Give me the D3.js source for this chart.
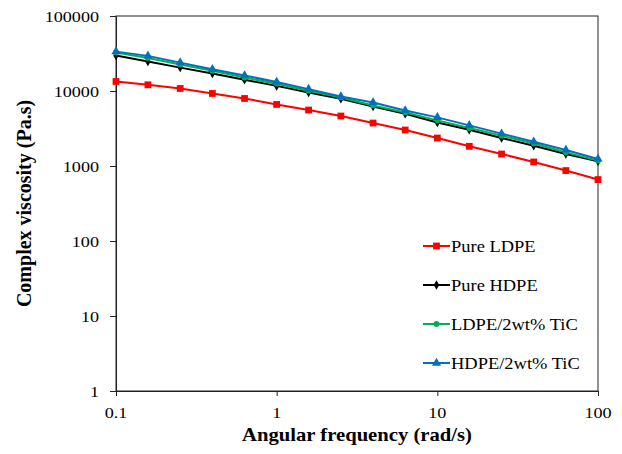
<!DOCTYPE html>
<html>
<head>
<meta charset="utf-8">
<script src="https://cdn.jsdelivr.net/npm/d3@7/dist/d3.min.js"></script>
<style>
body { margin: 0; background: #fff; }
text { font-family: "Liberation Serif", "Times New Roman", serif; fill: #000; }
</style>
</head>
<body>
<svg width="622" height="454"></svg>
<script>
// angular frequency (rad/s), 5 points per decade
var freq = [0.1, 0.158, 0.251, 0.398, 0.631, 1, 1.58, 2.51, 3.98, 6.31, 10, 15.8, 25.1, 39.8, 63.1, 100];
// complex viscosity (Pa.s)
var pureLDPE = [13400, 12100, 10800, 9270, 7950, 6620, 5570, 4640, 3740, 3020, 2360, 1830, 1445, 1133, 869, 659];
var pureHDPE = [29700, 24700, 20500, 17100, 14100, 11700, 9550, 7870, 6220, 4980, 3810, 3050, 2360, 1866, 1445, 1156];
var ldpeTiC = [32500, 27600, 22500, 18600, 15100, 12500, 10100, 8200, 6410, 5180, 4060, 3210, 2540, 1990, 1520, 1180];
var hdpeTiC = [33500, 29400, 23900, 19500, 16100, 13200, 10600, 8450, 7030, 5510, 4450, 3480, 2700, 2110, 1636, 1242];
var seriesNames = ["Pure LDPE", "Pure HDPE", "LDPE/2wt% TiC", "HDPE/2wt% TiC"];
var xTicks = [0.1, 1, 10, 100];
var yTicks = [1, 10, 100, 1000, 10000, 100000];

var series = [
  { name: seriesNames[0], values: pureLDPE, color: "#FF0000", symbol: d3.symbolSquare, size: 46 },
  { name: seriesNames[1], values: pureHDPE, color: "#000000", symbol: d3.symbolDiamond, size: 26 },
  { name: seriesNames[2], values: ldpeTiC, color: "#00B050", symbol: d3.symbolCircle, size: 26 },
  { name: seriesNames[3], values: hdpeTiC, color: "#0070C0", symbol: d3.symbolTriangle, size: 36 }
];

var svg = d3.select("svg");
var margin = { left: 116, right: 24, top: 16, bottom: 63 };
var width = 622 - margin.left - margin.right,
    height = 454 - margin.top - margin.bottom;

var x = d3.scaleLog().domain([0.1, 100]).range([margin.left, margin.left + width]);
var y = d3.scaleLog().domain([1, 100000]).range([margin.top + height, margin.top]);

// text that is a bit wider than the font, like the original export
function label(g, px, py, txt, size, sx, anchor, weight) {
  return g.append("text")
    .attr("transform", "translate(" + px + "," + py + ") scale(" + sx + ",1)")
    .attr("text-anchor", anchor)
    .style("font-size", size + "px")
    .style("font-weight", weight || "normal")
    .text(txt);
}

// plot box
svg.append("rect")
  .attr("x", margin.left).attr("y", margin.top)
  .attr("width", width).attr("height", height)
  .attr("fill", "none").attr("stroke", "#222").attr("stroke-width", 1);

// axes (ticks only, labels drawn below)
svg.append("g")
  .attr("transform", "translate(0," + (margin.top + height) + ")")
  .call(d3.axisBottom(x).tickValues(xTicks).tickSize(5).tickFormat(""))
  .call(g => g.selectAll("line,path").attr("stroke", "#222"));

svg.append("g")
  .attr("transform", "translate(" + margin.left + ",0)")
  .call(d3.axisLeft(y).tickValues(yTicks).tickSize(6).tickFormat(""))
  .call(g => g.selectAll("line,path").attr("stroke", "#222"));

var fmt = d3.format("~g");
xTicks.forEach(function(t) {
  label(svg, x(t), margin.top + height + 27, t >= 1 ? d3.format("d")(t) : fmt(t), 15.5, 1.17, "middle");
});
yTicks.forEach(function(t) {
  label(svg, 99, y(t) + 5.5, d3.format("d")(t), 15.5, 1.17, "end");
});

// axis titles
label(svg, margin.left + width / 2, 441, "Angular frequency (rad/s)", 19.5, 1.06, "middle", "bold");
svg.append("text")
  .attr("transform", "translate(31," + (margin.top + height / 2) + ") rotate(-90)")
  .attr("text-anchor", "middle")
  .style("font-size", "20px")
  .style("font-weight", "bold")
  .text("Complex viscosity (Pa.s)");

// lines and markers
var line = d3.line()
  .x(function(d, i) { return x(freq[i]); })
  .y(function(d) { return y(d); });

series.forEach(function(s) {
  var g = svg.append("g");
  g.append("path")
    .datum(s.values)
    .attr("d", line)
    .attr("fill", "none")
    .attr("stroke", s.color)
    .attr("stroke-width", 2);
  g.selectAll("path.pt")
    .data(s.values)
    .enter().append("path")
    .attr("class", "pt")
    .attr("d", d3.symbol().type(s.symbol).size(s.size))
    .attr("transform", function(d, i) { return "translate(" + x(freq[i]) + "," + y(d) + ")"; })
    .attr("fill", s.color);
});

// legend
var legend = svg.append("g").attr("transform", "translate(423,246)");
series.forEach(function(s, i) {
  var row = legend.append("g").attr("transform", "translate(0," + (i * 39) + ")");
  row.append("line")
    .attr("x1", 0).attr("x2", 27).attr("y1", 0).attr("y2", 0)
    .attr("stroke", s.color).attr("stroke-width", 2);
  row.append("path")
    .attr("d", d3.symbol().type(s.symbol).size(s.size))
    .attr("transform", "translate(13.5,0)")
    .attr("fill", s.color);
  label(row, 28, 5.5, s.name, 16.5, 1.12, "start");
});
</script>
</body>
</html>
